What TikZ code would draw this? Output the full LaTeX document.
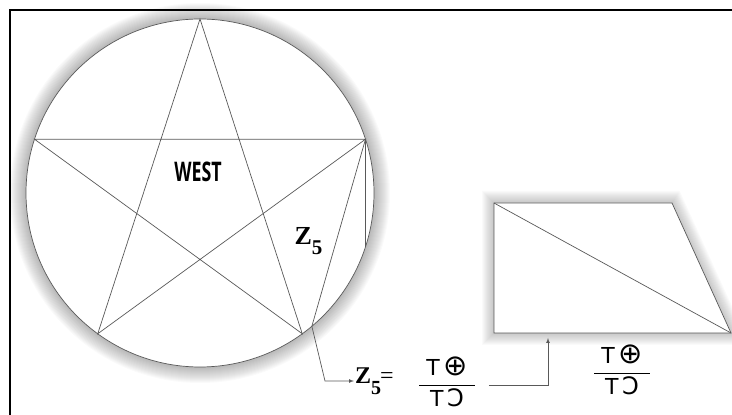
\documentclass[tikz,border=0pt]{standalone}
\usepackage{fontspec}
\newfontfamily\westfont[FakeStretch=0.66]{Open Sans}
\newfontfamily\zfont{Liberation Serif}
\newfontfamily\symfont{DejaVu Sans}
\newcommand{\fracbox}{{\symfont\fontsize{22}{22}\selectfont
  \setlength{\tabcolsep}{7pt}\setlength{\arrayrulewidth}{0.8pt}%
  \begin{tabular}{c}T\,{\fontsize{29}{22}\selectfont ⊕}\\[3pt]\hline\rule{0pt}{20pt}T\,{\fontsize{24}{22}\selectfont Ↄ}\end{tabular}}}
\tikzset{
  thin line/.style={black!65,line width=0.7pt},
  halo/.style={black,opacity=0.02},
}
\begin{document}
\begin{tikzpicture}[x=1pt,y=1pt]
  \useasboundingbox (0,0) rectangle (732,415);
  \coordinate (c) at (200,222);
  \foreach \w in {2,4,...,32}
    \draw[halo,line width=\w pt] (c) circle (174);
  \foreach \w in {2,4,...,24}
    \draw[halo,line width=\w pt] (494,212) -- (672,212) -- (731,82) -- (494,82) -- cycle;
  \fill[white] (c) circle (174);
  \fill[white] (494,212) -- (672,212) -- (731,82) -- (494,82) -- cycle;

  \draw[line width=1.6pt] (10,0) -- (10,405) -- (732,405);

  \draw[thin line] (c) circle (174);
  \foreach \a/\n in {90/1,162/2,234/3,306/4,18/5}
    \coordinate (p\n) at ([shift={(\a:174)}]c);
  \coordinate (q1) at ([shift={(-18:174)}]c);
  \coordinate (q2) at ([shift={(-50:174)}]c);
  \draw[thin line] (p1) -- (p3) -- (p5) -- (p2) -- (p4) -- cycle;
  \draw[thin line] (p5) -- (q1);
  \draw[thin line] (p5) -- (q2);

  \node (west) at (198,243) {\westfont\bfseries\fontsize{27}{27}\selectfont WEST};
  \node[inner sep=0pt] (ztop) at (308.5,173.5)
    {\zfont\bfseries\fontsize{26}{26}\selectfont Z\raisebox{-10pt}{\fontsize{21}{21}\selectfont 5}};

  \node[anchor=west,inner sep=1pt] (zeq) at (354,34)
    {\zfont\bfseries\fontsize{24}{24}\selectfont Z\raisebox{-11pt}{\fontsize{20}{20}\selectfont 5}\mdseries\kern-1pt=};
  \coordinate (bend) at (325,34);
  \draw[thin line,-latex] (q2) -- (bend) -- (zeq.west);

  \node[inner sep=0pt] (frac1) at (447,30) {\fracbox};
  \node[inner sep=0pt] (frac2) at (622,42) {\fracbox};

  \draw[thin line] (494,212) -- (672,212) -- (731,82) -- (494,82) -- cycle;
  \draw[thin line] (494,212) -- (731,82);
  \coordinate (tbot) at (548,77);
  \draw[thin line,-latex] ([xshift=14pt]frac1.east) -| (tbot);
\end{tikzpicture}
\end{document}
